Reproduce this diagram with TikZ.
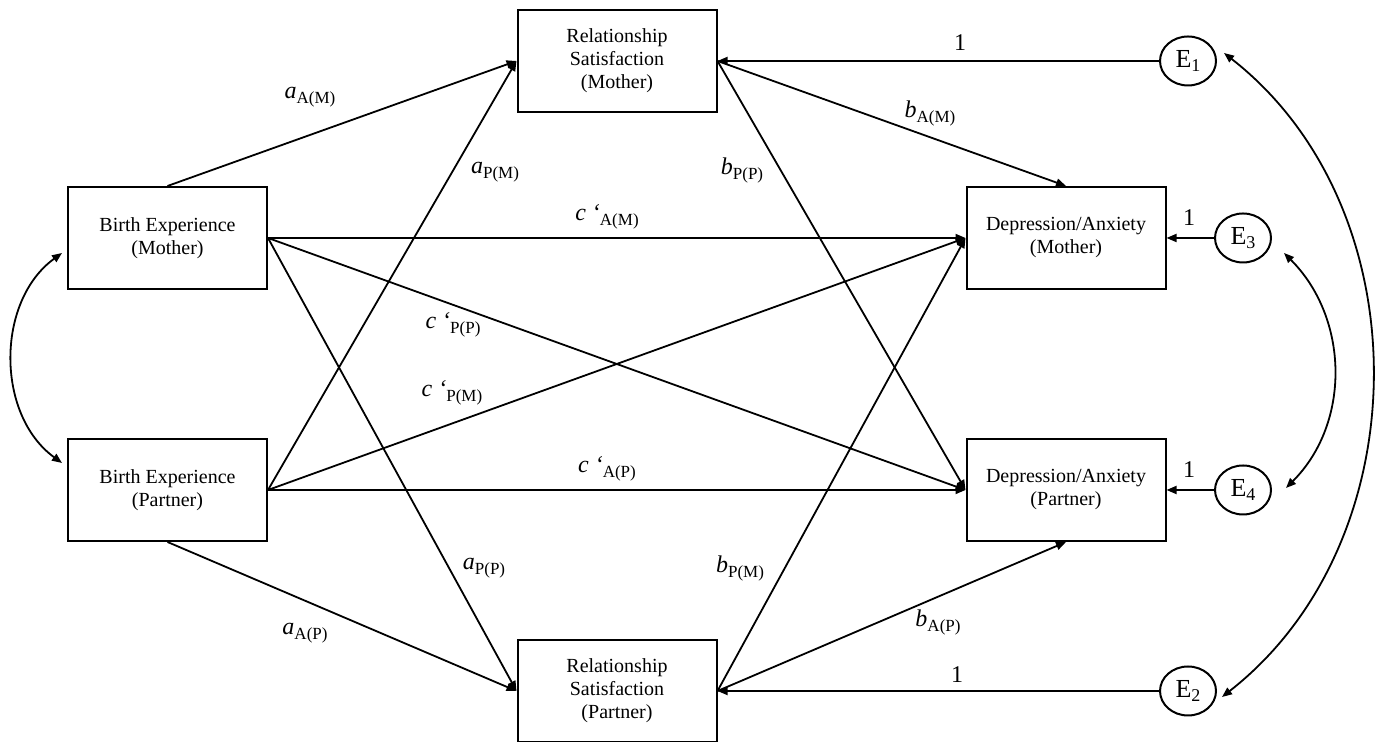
\documentclass[tikz,border=0pt]{standalone}
\usepackage{fontspec}
\setmainfont{Liberation Serif}
\usepackage{tikz}
\usetikzlibrary{arrows.meta}
\usetikzlibrary{shapes.geometric}

\newcommand{\pathlab}[2]{\textit{#1}\raisebox{-2.5pt}{\fontsize{8.5}{10}\selectfont #2}}
\newcommand{\errlab}[1]{E\raisebox{-2pt}{\fontsize{9}{10}\selectfont #1}}

\begin{document}
\begin{tikzpicture}[x=0.5pt, y=0.5pt,
  var/.style={draw, line width=1pt, minimum width=99.5pt, minimum height=51pt, inner sep=0pt, align=center, font=\fontsize{10}{11.5}\selectfont},
  err/.style={draw, ellipse, line width=1pt, minimum width=28pt, minimum height=24.5pt, inner sep=0pt, font=\fontsize{13}{14}\selectfont},
  arr/.style={-{Triangle[length=5pt,width=4pt]}, line width=0.9pt},
  dbl/.style={{Triangle[length=5pt,width=4pt]}-{Triangle[length=5pt,width=4pt]}, line width=0.9pt},
  lab/.style={font=\fontsize{12}{14}\selectfont, inner sep=0pt}]
\useasboundingbox (0,0) rectangle (1380,742);
%%% Draws the variables
% birth experience
\node[var] (bem) at (167.5,504) {Birth Experience\\(Mother)};
\node[var] (bep) at (167.5,252) {Birth Experience\\(Partner)};
% relationship satisfaction
\node[var] (rsm) at (617,681) {Relationship\\Satisfaction\\(Mother)};
\node[var] (rsp) at (617,51) {Relationship\\Satisfaction\\(Partner)};
% depression/anxiety
\node[var] (dam) at (1066,504) {Depression/Anxiety\\(Mother)};
\node[var] (dap) at (1066,252) {Depression/Anxiety\\(Partner)};
% error terms
\node[err] (e1) at (1188,681) {\errlab{1}};
\node[err] (e2) at (1188,51) {\errlab{2}};
\node[err] (e3) at (1243,504) {\errlab{3}};
\node[err] (e4) at (1243,252) {\errlab{4}};
%%% Draws the paths
% a paths
\draw[arr] (bem.north) -- (rsm.west);
\draw[arr] (bep.east) -- (rsm.west);
\draw[arr] (bem.east) -- (rsp.west);
\draw[arr] (bep.south) -- (rsp.west);
% c' paths
\draw[arr] (bem.east) -- (dam.west);
\draw[arr] (bem.east) -- (dap.west);
\draw[arr] (bep.east) -- (dam.west);
\draw[arr] (bep.east) -- (dap.west);
% b paths
\draw[arr] (rsm.east) -- (dam.north);
\draw[arr] (rsm.east) -- (dap.west);
\draw[arr] (rsp.east) -- (dam.west);
\draw[arr] (rsp.east) -- (dap.south);
% error paths
\draw[arr] (e1) -- (rsm.east);
\draw[arr] (e2) -- (rsp.east);
\draw[arr] (e3) -- (dam.east);
\draw[arr] (e4) -- (dap.east);
% covariances
\draw[dbl] ([shift={(-5,-15)}]bem.west) to[out=216, in=144] ([shift={(-5,27)}]bep.west);
\draw[dbl] ([shift={(12,-15)}]e3.east) to[out=-45, in=45] ([shift={(14,2)}]e4.east);
\draw[dbl] ([shift={(7,8)}]e1.east) to[out=-38, in=38] ([shift={(5,-6)}]e2.east);
%%% Labels the paths
\node[lab] (laam) at (310,645) {\pathlab{a}{A(M)}};
\node[lab] (lapm) at (495,570) {\pathlab{a}{P(M)}};
\node[lab] (lapp) at (484,174) {\pathlab{a}{P(P)}};
\node[lab] (laap) at (305,109) {\pathlab{a}{A(P)}};
\node[lab] (lcam) at (607,525) {\pathlab{c\hspace{3pt}‘}{A(M)}};
\node[lab] (lcpp) at (453,417) {\pathlab{c\hspace{3pt}‘}{P(P)}};
\node[lab] (lcpm) at (452,349) {\pathlab{c\hspace{3pt}‘}{P(M)}};
\node[lab] (lcap) at (607,273) {\pathlab{c\hspace{3pt}‘}{A(P)}};
\node[lab] (lbam) at (930,629) {\pathlab{b}{A(M)}};
\node[lab] (lbpp) at (742,572) {\pathlab{b}{P(P)}};
\node[lab] (lbpm) at (740,174) {\pathlab{b}{P(M)}};
\node[lab] (lbap) at (938,120) {\pathlab{b}{A(P)}};
% fixed loadings
\node[lab] (l1) at (960,699) {1};
\node[lab] (l2) at (957,67) {1};
\node[lab] (l3) at (1189,524) {1};
\node[lab] (l4) at (1189,272) {1};
\end{tikzpicture}
\end{document}
